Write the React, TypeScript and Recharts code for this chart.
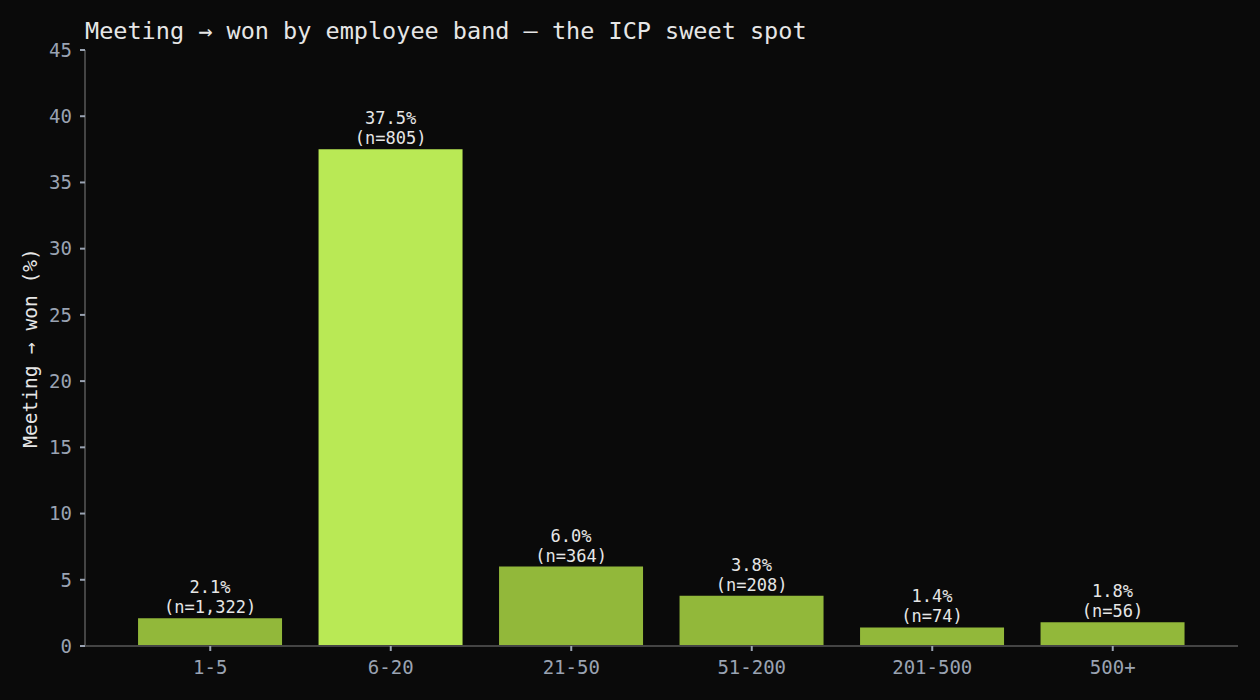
import React from "react";
import { BarChart, Bar, XAxis, YAxis, Cell, LabelList } from "recharts";

const bands = ["1-5", "6-20", "21-50", "51-200", "201-500", "500+"];
const wonPct = [2.1, 37.5, 6.0, 3.8, 1.4, 1.8];
const meetings = ["1,322", "805", "364", "208", "74", "56"];
const highlightBand = "6-20";
const yTicks = [0, 5, 10, 15, 20, 25, 30, 35, 40, 45];

const data = bands.map((band, i) => ({
  band,
  pct: wonPct[i],
  n: meetings[i],
}));

const FONT = "'DejaVu Sans Mono', monospace";
const BG = "#0a0a0a";
const AXIS = "#444444";
const TICK_TEXT = "#9aa3b2";
const TEXT = "#e6e6e6";

function TwoLineLabel(props: any) {
  const { x, y, width, index } = props;
  const d = data[index];
  const cx = x + width / 2;
  return (
    <g>
      <text x={cx} y={y - 25} textAnchor="middle" fill={TEXT} fontSize={17} fontFamily={FONT}>
        {d.pct.toFixed(1)}%
      </text>
      <text x={cx} y={y - 5} textAnchor="middle" fill={TEXT} fontSize={17} fontFamily={FONT}>
        (n={d.n})
      </text>
    </g>
  );
}

export default function App() {
  return (
    <div style={{ position: "fixed", left: 0, top: 0, width: 1260, height: 700, background: BG }}>
      <div
        style={{
          position: "absolute",
          left: 85,
          top: 20,
          fontFamily: FONT,
          fontSize: 23.5,
          lineHeight: "23.5px",
          color: TEXT,
          whiteSpace: "nowrap",
        }}
      >
        Meeting → won by employee band — the ICP sweet spot
      </div>
      <BarChart
        width={1260}
        height={700}
        data={data}
        margin={{ top: 50, right: 22, bottom: 0, left: 0 }}
        barCategoryGap="10%"
      >
        <XAxis
          dataKey="band"
          height={54}
          padding={{ left: 35, right: 35 }}
          stroke={AXIS}
          strokeWidth={2}
          tickSize={5}
          tickMargin={10}
          tick={{ fill: TICK_TEXT, fontSize: 19, fontFamily: FONT }}
          tickLine={{ stroke: TICK_TEXT }}
        />
        <YAxis
          width={85}
          domain={[0, 45]}
          ticks={yTicks}
          interval={0}
          stroke={AXIS}
          strokeWidth={2}
          tickSize={5}
          tickMargin={8}
          tick={{ fill: TICK_TEXT, fontSize: 19, fontFamily: FONT }}
          tickLine={{ stroke: TICK_TEXT }}
          label={{
            value: "Meeting → won (%)",
            angle: -90,
            position: "insideLeft",
            dx: 25,
            fill: TEXT,
            fontSize: 19.5,
            fontFamily: FONT,
            style: { textAnchor: "middle" },
          }}
        />
        <Bar dataKey="pct" isAnimationActive={false}>
          {data.map((d) => (
            <Cell key={d.band} fill={d.band === highlightBand ? "#b9e955" : "#92b83a"} />
          ))}
          <LabelList dataKey="pct" content={<TwoLineLabel />} />
        </Bar>
      </BarChart>
    </div>
  );
}
